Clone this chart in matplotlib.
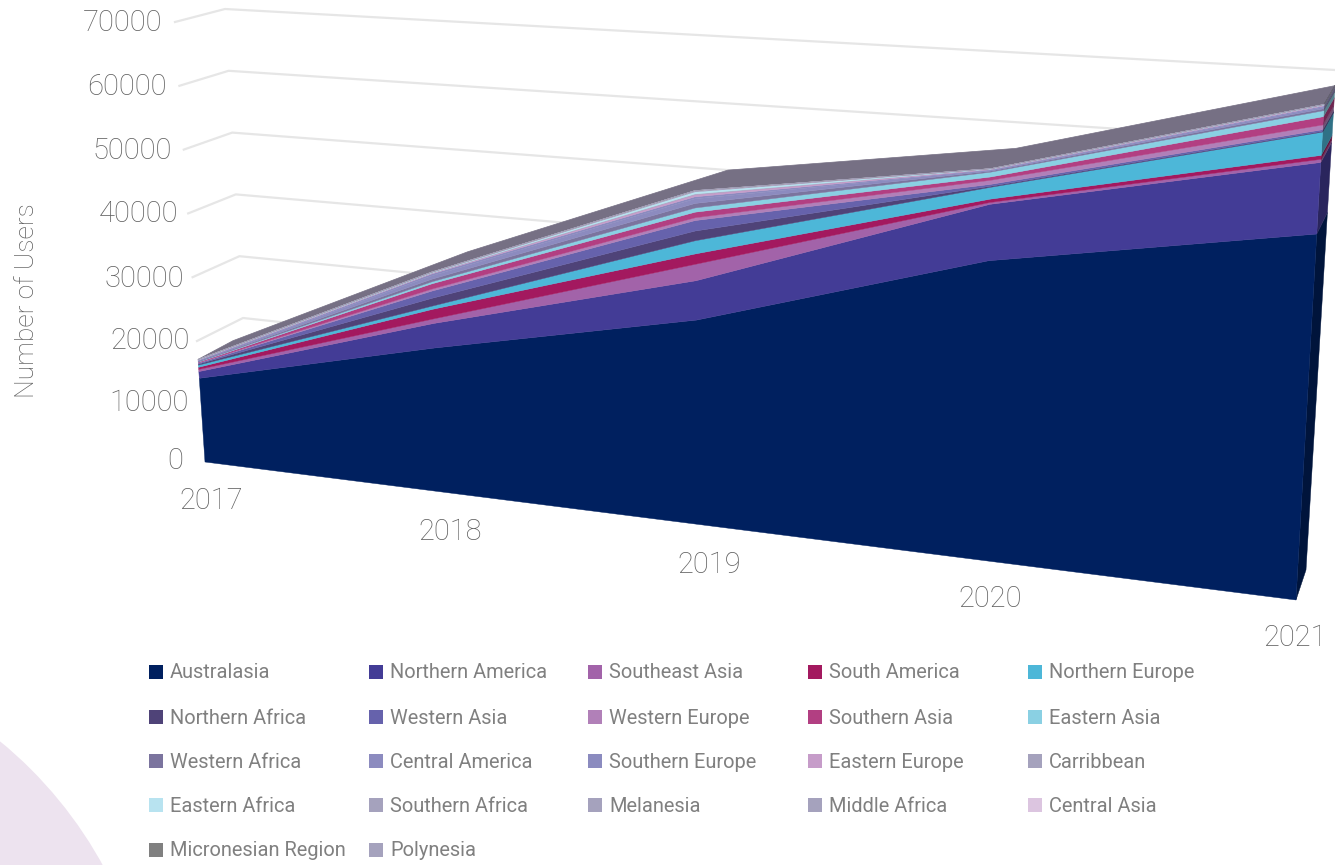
import matplotlib
matplotlib.use('Agg')
import matplotlib.pyplot as plt
from matplotlib.patches import Circle, Rectangle
import numpy as np

years = ['2017', '2018', '2019', '2020', '2021']
grid_values = [20000, 30000, 40000, 50000, 60000, 70000]
tick_values = [0, 10000, 20000, 30000, 40000, 50000, 60000, 70000]

regions = ['Australasia', 'Northern America', 'Southeast Asia', 'South America', 'Northern Europe',
           'Northern Africa', 'Western Asia', 'Western Europe', 'Southern Asia', 'Eastern Asia',
           'Western Africa', 'Central America', 'Southern Europe', 'Eastern Europe', 'Carribbean',
           'Eastern Africa', 'Southern Africa', 'Melanesia', 'Middle Africa', 'Central Asia',
           'Micronesian Region', 'Polynesia']

australasia = [13850, 22700, 30700, 42600, 49300]
northern_america = [1100, 3800, 5750, 7700, 9180]
southeast_asia = [350, 700, 2400, 250, 400]
south_america = [350, 1500, 1500, 450, 500]
northern_europe = [350, 500, 1900, 1600, 2950]
northern_africa = [170, 1200, 1400, 150, 100]
western_asia = [140, 1100, 1500, 250, 200]
western_europe = [70, 300, 400, 550, 600]
southern_asia = [100, 800, 800, 450, 1050]
eastern_asia = [60, 300, 600, 650, 750]
western_africa = [80, 400, 650, 150, 250]
central_america = [100, 500, 650, 100, 200]
southern_europe = [70, 300, 300, 80, 150]
eastern_europe = [50, 100, 300, 60, 100]
carribbean = [20, 50, 100, 20, 20]
eastern_africa = [35, 60, 300, 30, 30]
southern_africa = [25, 50, 100, 20, 20]
melanesia = [5, 10, 20, 5, 5]
middle_africa = [5, 10, 30, 5, 5]
central_asia = [5, 10, 30, 5, 5]
micronesian = [3, 5, 10, 5, 5]
polynesia = [2, 5, 10, 5, 5]

series = [australasia, northern_america, southeast_asia, south_america, northern_europe,
          northern_africa, western_asia, western_europe, southern_asia, eastern_asia,
          western_africa, central_america, southern_europe, eastern_europe, carribbean,
          eastern_africa, southern_africa, melanesia, middle_africa, central_asia,
          micronesian, polynesia]

colors = ['#00205f', '#433c96', '#a263a9', '#a3195f', '#4db7d8',
          '#4f4378', '#6662ac', '#b180b8', '#b23f82', '#8ad0e3',
          '#7b749e', '#8c8bbf', '#8b8bbf', '#c69cc9', '#a5a2bd',
          '#b8e3f0', '#a5a2bd', '#a5a2bd', '#a5a2bd', '#dcc5e0',
          '#808080', '#a5a2bd']

text_col = '#5f5f5f'
FONT = 'Roboto'


def homography(corners):
    # maps (t, v) with t 0-4 and v 0-70000 on to image pixels
    src = [(0, 0), (4, 0), (0, 7), (4, 7)]
    a, b = [], []
    for (s, r), (x, y) in zip(src, corners):
        a.append([s, r, 1, 0, 0, 0, -x * s, -x * r])
        a.append([0, 0, 0, s, r, 1, -y * s, -y * r])
        b += [x, y]
    h = np.linalg.solve(np.array(a, float), np.array(b, float))
    return np.append(h, 1).reshape(3, 3)


H_front = homography([(205, 462), (1296, 600), (175, 22), (1326, 71)])
H_back = homography([(240, 444), (1306, 570), (210, 0), (1337, 53)])


def project(h, t, v):
    t = np.asarray(t, float)
    v = np.asarray(v, float) / 10000
    w = h[2, 0] * t + h[2, 1] * v + 1
    return (h[0, 0] * t + h[0, 1] * v + h[0, 2]) / w, (h[1, 0] * t + h[1, 1] * v + h[1, 2]) / w


def darker(c, f=0.62):
    return tuple(x * f for x in matplotlib.colors.to_rgb(c))


fig = plt.figure(figsize=(13.35, 8.65), dpi=100)
ax = fig.add_axes([0, 0, 1, 1])
ax.set_xlim(0, 1335)
ax.set_ylim(865, 0)
ax.axis('off')

ax.add_patch(Circle((-269, 1069), 424, facecolor='#ede3ef', edgecolor='none', zorder=0))

# gridlines, side wall then back wall. only the top one clears the stack on the right
for g in grid_values:
    k = g / 10000
    xs = [197 - (k - 2) * 4.4, 243 - (k - 2) * 3.6, 1335]
    ys = [341 - (k - 2) * 63.8, 318 - (k - 2) * 61.8, 70 + (7 - k) * 73]
    if g < 70000:
        ys[2] = ys[1] + (ys[2] - ys[1]) * (1250 - xs[1]) / (xs[2] - xs[1])
        xs[2] = 1250
    ax.plot(xs, ys, color='#e6e6e6', lw=1.6, solid_joinstyle='round', zorder=1)

t = np.arange(len(years))
stack = np.cumsum(np.array(series, float), axis=0)
lower = np.vstack([np.zeros(len(years)), stack[:-1]])

# top face of the stack, front edge to back edge
fx, fy = project(H_front, t, stack[-1])
bx, by = project(H_back, t, stack[-1])
ax.fill(np.r_[fx, bx[::-1]], np.r_[fy, by[::-1]], color='#767084', lw=0.5, zorder=2)

# side face at the last year
for i in range(len(series)):
    x1, y1 = project(H_front, [4, 4], [lower[i][-1], stack[i][-1]])
    x2, y2 = project(H_back, [4, 4], [stack[i][-1], lower[i][-1]])
    ax.fill(np.r_[x1, x2], np.r_[y1, y2], color=darker(colors[i]), lw=0.3, zorder=3)

# front face
for i in range(len(series)):
    x1, y1 = project(H_front, t, lower[i])
    x2, y2 = project(H_front, t[::-1], stack[i][::-1])
    ax.fill(np.r_[x1, x2], np.r_[y1, y2], color=colors[i], lw=0.3, zorder=4)

# value labels
tick_right = [183, 189, 190, 184, 178, 172, 167, 162]
tick_y = [461, 403, 341, 279, 214, 151, 87, 23]
for v, r, y in zip(tick_values, tick_right, tick_y):
    ax.text(r, y, str(v), ha='right', va='center', fontsize=21, color=text_col,
            family=FONT, fontweight='light')

# year labels
year_x = [211, 450, 709, 990, 1295]
year_y = [501, 532, 565, 599, 638]
for lab, x, y in zip(years, year_x, year_y):
    ax.text(x, y, lab, ha='center', va='center', fontsize=21, color=text_col,
            family=FONT, fontweight='light')

ax.text(27, 301, 'Number of Users', rotation=90, ha='center', va='center', fontsize=19,
        color=text_col, family=FONT, fontweight='light')

# legend, five per row
col_x = [149, 369, 588, 808, 1028]
row_y = [672, 717, 761, 805, 850]
for i, name in enumerate(regions):
    r, c = divmod(i, 5)
    x, y = col_x[c], row_y[r]
    ax.add_patch(Rectangle((x, y - 7), 14, 14, facecolor=colors[i], edgecolor='none', zorder=5))
    ax.text(x + 21, y + 1, name, ha='left', va='center', fontsize=14.4, color='#808080', family=FONT)

fig.savefig('out.png', dpi=100)
